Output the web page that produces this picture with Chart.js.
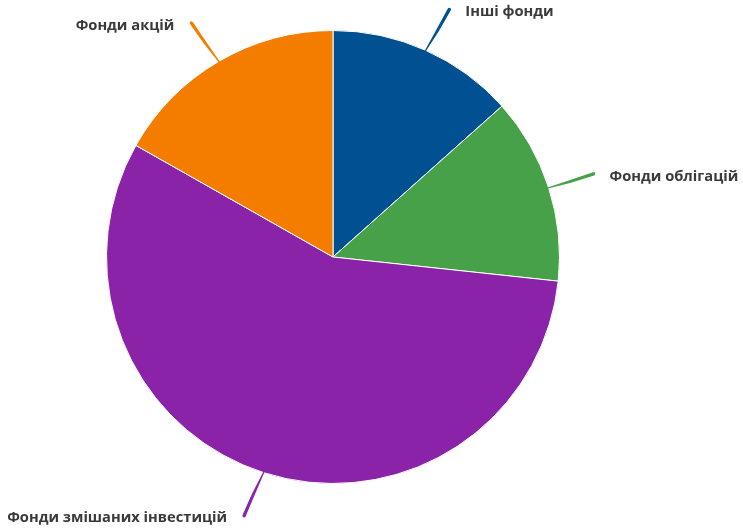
<!DOCTYPE html>
<html>
<head>
<meta charset="utf-8">
<script src="https://cdn.jsdelivr.net/npm/chart.js@4.4.1/dist/chart.umd.min.js"></script>
<style>
  html, body { margin: 0; padding: 0; background: #fff; }
  #wrap { width: 743px; height: 529px; }
</style>
</head>
<body>
<div id="wrap"><canvas id="myChart" width="743" height="529"></canvas></div>
<script>
// pie data
const labels = ['Інші фонди', 'Фонди облігацій', 'Фонди змішаних інвестицій', 'Фонди акцій'];
const values = [13.4, 13.3, 56.5, 16.8];
const colors = ['#005092', '#46a149', '#8b23a9', '#f47d00'];

// leader lines + labels drawn by hand, Chart.js has no outside labels built in
const outsideLabels = {
  id: 'outsideLabels',
  afterDatasetsDraw(chart) {
    const ctx = chart.ctx;
    const meta = chart.getDatasetMeta(0);
    ctx.save();
    ctx.font = 'bold 14.7px "Open Sans"';
    ctx.textBaseline = 'middle';
    meta.data.forEach((arc, i) => {
      const p = arc.getProps(['x', 'y', 'startAngle', 'endAngle', 'outerRadius'], true);
      const a = (p.startAngle + p.endAngle) / 2;
      // end of the line drifts a bit away from the vertical axis
      const s = Math.sin(a);
      const dir = -s * Math.cos(a) > 0 ? 1 : -1;
      const a1 = a + dir * 0.022 * s * s;
      const r0 = p.outerRadius - 1;
      const r1 = p.outerRadius + 47;
      const x0 = p.x + Math.cos(a) * r0, y0 = p.y + Math.sin(a) * r0;
      const x1 = p.x + Math.cos(a1) * r1, y1 = p.y + Math.sin(a1) * r1;
      const dx = x1 - x0, dy = y1 - y0;
      const len = Math.sqrt(dx * dx + dy * dy);
      const nx = -dy / len, ny = dx / len;
      const bend = 0.8 * dir;
      const cx = (x0 + x1) / 2 + nx * bend, cy = (y0 + y1) / 2 + ny * bend;
      const w = 3.4;
      ctx.fillStyle = colors[i];
      ctx.beginPath();
      ctx.moveTo(x0 + nx * 0.6, y0 + ny * 0.6);
      ctx.quadraticCurveTo(cx + nx * w / 2, cy + ny * w / 2, x1 + nx * w / 2, y1 + ny * w / 2);
      ctx.arc(x1, y1, w / 2, Math.atan2(ny, nx), Math.atan2(-ny, -nx), true);
      ctx.quadraticCurveTo(cx - nx * w / 2, cy - ny * w / 2, x0 - nx * 0.6, y0 - ny * 0.6);
      ctx.closePath();
      ctx.fill();

      ctx.fillStyle = '#3a3a3a';
      if (x1 > p.x) {
        ctx.textAlign = 'left';
        ctx.fillText(labels[i], x1 + 16, y1 + 2.5);
      } else {
        ctx.textAlign = 'right';
        ctx.fillText(labels[i], x1 - 17, y1 + 2.5);
      }
    });
    ctx.restore();
  }
};

const ctx = document.getElementById('myChart').getContext('2d');
const myChart = new Chart(ctx, {
  type: 'pie',
  data: {
    labels: labels,
    datasets: [{
      data: values,
      backgroundColor: colors,
      borderColor: '#ffffff',
      borderWidth: 1
    }]
  },
  options: {
    responsive: false,
    animation: { duration: 0 },
    layout: { padding: { left: 0, right: 77, top: 30, bottom: 45 } },
    plugins: {
      legend: { display: false },
      tooltip: { enabled: false }
    }
  },
  plugins: [outsideLabels]
});
</script>
</body>
</html>
